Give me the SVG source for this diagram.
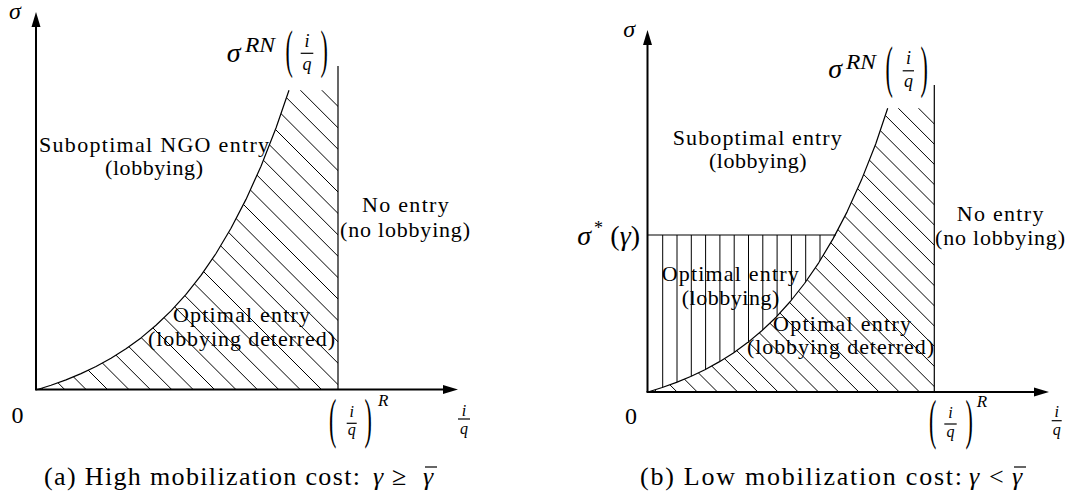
<svg xmlns="http://www.w3.org/2000/svg" width="1071" height="501" viewBox="0 0 1071 501" font-family="'Liberation Serif', 'DejaVu Serif', serif">
<style>
text{font-family:'Liberation Serif','DejaVu Serif',serif;fill:#000}
.lab{font-size:22px}
.it{font-style:italic}
.axis{stroke:#000;stroke-width:2;fill:none}
.bound{stroke:#000;stroke-width:1.2;fill:none}
.curve{stroke:#000;stroke-width:1.2;fill:none;stroke-linejoin:round}
.hatch{stroke:#000;stroke-width:1;fill:none}
.bar{stroke:#000;stroke-width:1.2}
.cap{font-size:26px}
</style>
<defs>
<clipPath id="clipA"><path d="M36,390 L51,385.3 L66,379.9 L81,373.6 L96,366.5 L111,358.2 L126,348.8 L141,337.9 L156,325.3 L171,310.9 L186,294.4 L201,275.4 L216,253.5 L231,228.3 L246,199.4 L261,166.2 L276,128 L289,90.2 L338,90.2 L338,390 Z"/></clipPath>
<clipPath id="clipB"><path d="M648,392 L662.2,387.5 L676.5,382.4 L690.7,376.5 L704.9,369.7 L719.1,361.9 L733.4,352.9 L747.6,342.6 L761.8,330.8 L776.1,317.2 L790.3,301.5 L804.5,283.5 L818.7,262.8 L833,238.9 L847.2,211.6 L861.4,180.1 L875.7,144 L887.7,108.2 L934.3,108.2 L934.3,392 Z"/></clipPath>
<clipPath id="clipC"><path d="M648,235 L835,235 L833,238.9 L818.7,262.8 L804.5,283.5 L790.3,301.5 L776.1,317.2 L761.8,330.8 L747.6,342.6 L733.4,352.9 L719.1,361.9 L704.9,369.7 L690.7,376.5 L676.5,382.4 L662.2,387.5 L648,392 Z"/></clipPath>
</defs>
<rect width="1071" height="501" fill="#fff"/>

<g id="panel-a">
  <g id="a-hatch" clip-path="url(#clipA)">
    <path class="hatch" d="M-266.2,80 L53.8,400 M-244.8,80 L75.2,400 M-223.4,80 L96.6,400 M-202,80 L118,400 M-180.6,80 L139.4,400 M-159.2,80 L160.8,400 M-137.8,80 L182.2,400 M-116.4,80 L203.6,400 M-95,80 L225,400 M-73.6,80 L246.4,400 M-52.2,80 L267.8,400 M-30.8,80 L289.2,400 M-9.4,80 L310.6,400 M12,80 L332,400 M33.4,80 L353.4,400 M54.8,80 L374.8,400 M76.2,80 L396.2,400 M97.6,80 L417.6,400 M119,80 L439,400 M140.4,80 L460.4,400 M161.8,80 L481.8,400 M183.2,80 L503.2,400 M204.6,80 L524.6,400 M226,80 L546,400 M247.4,80 L567.4,400 M268.8,80 L588.8,400 M290.2,80 L610.2,400 M311.6,80 L631.6,400"/>
  </g>
  <g id="a-lines">
    <path class="curve" d="M36,390 L51,385.3 L66,379.9 L81,373.6 L96,366.5 L111,358.2 L126,348.8 L141,337.9 L156,325.3 L171,310.9 L186,294.4 L201,275.4 L216,253.5 L231,228.3 L246,199.4 L261,166.2 L276,128 L289,90.2"/>
    <path class="bound" d="M338,66 V389.5"/>
    <path class="axis" d="M36,390 V25"/>
    <polygon points="36,12 40.5,27 31.5,27" fill="#000"/>
    <path class="axis" d="M35,389.5 H443"/>
    <polygon points="458,389.5 443,385 443,394" fill="#000"/>
  </g>
  <g id="a-labels">
    <text x="9" y="19" font-size="24" class="it">σ</text>
    <text x="226.7" y="61.7" font-size="28" class="it">σ</text>
    <text x="245" y="52" font-size="21" class="it" textLength="30" lengthAdjust="spacingAndGlyphs">RN</text>
    <text transform="translate(285.6,67.1) scale(1,2.43)" font-size="22">(</text>
    <text transform="translate(320.5,67.1) scale(1,2.43)" font-size="22">)</text>
    <text x="307" y="46.5" font-size="18" class="it" text-anchor="middle">i</text>
    <line class="bar" x1="300.7" y1="53.3" x2="313.3" y2="53.3"/>
    <text x="307" y="69.5" font-size="18" class="it" text-anchor="middle">q</text>

    <text x="39" y="152" class="lab" textLength="230">Suboptimal NGO entry</text>
    <text x="105" y="175" class="lab" textLength="98">(lobbying)</text>
    <text x="362" y="212" class="lab" textLength="86.7">No entry</text>
    <text x="340" y="237" class="lab" textLength="130">(no lobbying)</text>
    <text x="173" y="321.7" class="lab" textLength="137">Optimal entry</text>
    <text x="148" y="346" class="lab" textLength="187">(lobbying deterred)</text>

    <text x="17.5" y="423" font-size="24" text-anchor="middle">0</text>
    <text transform="translate(329,436.8) scale(1,2.54)" font-size="22">(</text>
    <text transform="translate(364.5,436.8) scale(1,2.54)" font-size="22">)</text>
    <text x="351.7" y="416.5" font-size="16" class="it" text-anchor="middle">i</text>
    <line class="bar" x1="346.7" y1="423.3" x2="356.7" y2="423.3"/>
    <text x="351.7" y="435" font-size="16" class="it" text-anchor="middle">q</text>
    <text x="378" y="406" font-size="17" class="it">R</text>
    <text x="464" y="415.5" font-size="16" class="it" text-anchor="middle">i</text>
    <line class="bar" x1="458" y1="419" x2="470" y2="419"/>
    <text x="464" y="433.5" font-size="16" class="it" text-anchor="middle">q</text>

    <text x="44" y="485" class="cap" textLength="316">(a) High mobilization cost:</text>
    <text x="373" y="485" class="cap it">γ</text>
    <text x="392" y="485" class="cap">≥</text>
    <text x="423" y="485" class="cap it">γ</text>
    <line class="bar" x1="425" y1="467" x2="437" y2="467"/>
  </g>
</g>

<g id="panel-b">
  <g id="b-hatch-diag" clip-path="url(#clipB)">
    <path class="hatch" d="M364.9,100 L664.9,400 M385.1,100 L685.1,400 M405.3,100 L705.3,400 M425.5,100 L725.5,400 M445.7,100 L745.7,400 M465.9,100 L765.9,400 M486.1,100 L786.1,400 M506.3,100 L806.3,400 M526.5,100 L826.5,400 M546.7,100 L846.7,400 M566.9,100 L866.9,400 M587.1,100 L887.1,400 M607.3,100 L907.3,400 M627.5,100 L927.5,400 M647.7,100 L947.7,400 M667.9,100 L967.9,400 M688.1,100 L988.1,400 M708.3,100 L1008.3,400 M728.5,100 L1028.5,400 M748.7,100 L1048.7,400 M768.9,100 L1068.9,400 M789.1,100 L1089.1,400 M809.3,100 L1109.3,400 M829.5,100 L1129.5,400 M849.7,100 L1149.7,400 M869.9,100 L1169.9,400 M890.1,100 L1190.1,400 M910.3,100 L1210.3,400"/>
  </g>
  <g id="b-hatch-vert" clip-path="url(#clipC)">
    <path class="hatch" d="M662.7,235 V392 M677,235 V392 M691.3,235 V392 M705.6,235 V392 M719.9,235 V392 M734.2,235 V392 M748.5,235 V392 M762.8,235 V392 M777.1,235 V392 M791.4,235 V392 M805.7,235 V392 M820,235 V392 M834.3,235 V392"/>
  </g>
  <g id="b-lines">
    <path class="curve" d="M648,392 L662.2,387.5 L676.5,382.4 L690.7,376.5 L704.9,369.7 L719.1,361.9 L733.4,352.9 L747.6,342.6 L761.8,330.8 L776.1,317.2 L790.3,301.5 L804.5,283.5 L818.7,262.8 L833,238.9 L847.2,211.6 L861.4,180.1 L875.7,144 L887.7,108.2"/>
    <path class="bound" d="M647.5,235 H836"/>
    <path class="bound" d="M934.3,85 V392"/>
    <path class="axis" d="M647.5,392 V44"/>
    <polygon points="647.5,30 652,45 643,45" fill="#000"/>
    <path class="axis" d="M646.5,392 H1034"/>
    <polygon points="1049,392 1034,387.5 1034,396.5" fill="#000"/>
  </g>
  <g id="b-labels">
    <text x="623.3" y="37" font-size="24" class="it">σ</text>
    <text x="828.3" y="78.3" font-size="28" class="it">σ</text>
    <text x="846" y="69" font-size="21" class="it" textLength="30" lengthAdjust="spacingAndGlyphs">RN</text>
    <text transform="translate(885.6,86.4) scale(1,2.6)" font-size="22">(</text>
    <text transform="translate(920.5,86.4) scale(1,2.6)" font-size="22">)</text>
    <text x="908.4" y="64" font-size="18" class="it" text-anchor="middle">i</text>
    <line class="bar" x1="902.7" y1="70.8" x2="914" y2="70.8"/>
    <text x="908.4" y="87" font-size="18" class="it" text-anchor="middle">q</text>

    <text x="577.3" y="245" font-size="28" class="it">σ</text>
    <text x="594" y="234" font-size="18">*</text>
    <text x="640" y="245" font-size="28" text-anchor="end">(<tspan class="it">γ</tspan>)</text>

    <text x="672.7" y="145" class="lab" textLength="169">Suboptimal entry</text>
    <text x="709" y="168" class="lab" textLength="97.7">(lobbying)</text>
    <text x="661.7" y="280.7" class="lab" textLength="137">Optimal entry</text>
    <text x="681.7" y="305" class="lab" textLength="97.6">(lobbying)</text>
    <text x="773" y="331" class="lab" textLength="138">Optimal entry</text>
    <text x="747" y="354" class="lab" textLength="187">(lobbying deterred)</text>
    <text x="956.7" y="221" class="lab" textLength="86.7">No entry</text>
    <text x="935" y="245" class="lab" textLength="130">(no lobbying)</text>

    <text x="631" y="424" font-size="24" text-anchor="middle">0</text>
    <text transform="translate(929,438.2) scale(1,2.5)" font-size="22">(</text>
    <text transform="translate(965.5,438.2) scale(1,2.5)" font-size="22">)</text>
    <text x="950.5" y="417.5" font-size="16" class="it" text-anchor="middle">i</text>
    <line class="bar" x1="944.3" y1="424" x2="956.7" y2="424"/>
    <text x="950.5" y="436.5" font-size="16" class="it" text-anchor="middle">q</text>
    <text x="976.7" y="407" font-size="17" class="it">R</text>
    <text x="1056.7" y="417" font-size="16" class="it" text-anchor="middle">i</text>
    <line class="bar" x1="1051.7" y1="420.7" x2="1061.7" y2="420.7"/>
    <text x="1056.7" y="435" font-size="16" class="it" text-anchor="middle">q</text>

    <text x="640" y="485" class="cap" textLength="322">(b) Low mobilization cost:</text>
    <text x="969" y="485" class="cap it">γ</text>
    <text x="989" y="485" class="cap">&lt;</text>
    <text x="1012" y="485" class="cap it">γ</text>
    <line class="bar" x1="1014" y1="467" x2="1026" y2="467"/>
  </g>
</g>
</svg>
